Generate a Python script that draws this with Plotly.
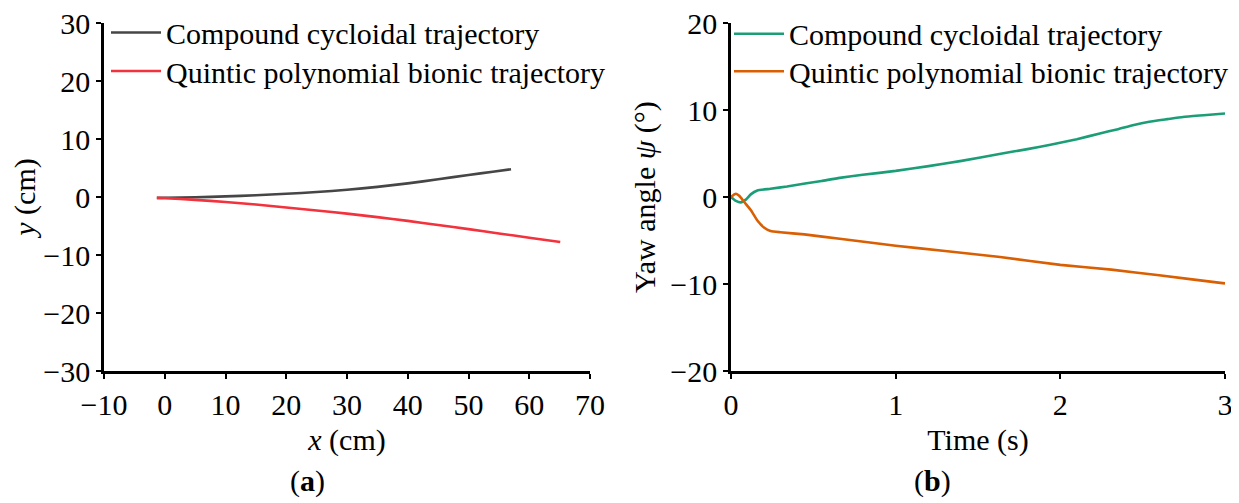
import plotly.graph_objects as go

# panel (a): planar trajectories
gray_x = [-1.3, 0, 5, 10, 15, 20, 25, 30, 35, 40, 45, 50, 54, 57]
gray_y = [-0.15, -0.13, -0.05, 0.1, 0.3, 0.55, 0.85, 1.25, 1.75, 2.35, 3.05, 3.8, 4.35, 4.78]
red_x = [-1.3, 0, 5, 10, 15, 20, 25, 30, 35, 40, 45, 50, 55, 60, 65.1]
red_y = [-0.15, -0.2, -0.5, -0.86, -1.3, -1.8, -2.32, -2.87, -3.47, -4.12, -4.82, -5.54, -6.28, -7.02, -7.76]

# panel (b): yaw angle vs time
green_t = [0, 0.03, 0.06, 0.09, 0.12, 0.16, 0.24, 0.34, 0.45, 0.55, 0.66, 0.8, 1.0, 1.2,
           1.4, 1.63, 1.8, 1.94, 2.1, 2.24, 2.35, 2.44, 2.54, 2.65, 2.745, 2.87, 3.0]
green_y = [0, -0.45, -0.62, -0.3, 0.3, 0.75, 0.95, 1.2, 1.55, 1.85, 2.2, 2.55, 3.0, 3.55,
           4.15, 4.95, 5.5, 6.0, 6.65, 7.3, 7.8, 8.25, 8.65, 8.95, 9.2, 9.4, 9.6]
orange_t = [0, 0.02, 0.03, 0.05, 0.08, 0.12, 0.16, 0.2, 0.24, 0.3, 0.445, 0.66, 1.0, 1.3,
            1.634, 2.0, 2.31, 2.6, 2.985, 3.0]
orange_y = [0, 0.3, 0.38, 0.15, -0.57, -1.5, -2.7, -3.5, -3.9, -4.05, -4.3, -4.8, -5.6, -6.2,
            -6.9, -7.8, -8.35, -9.0, -9.9, -9.93]

names = ["Compound cycloidal trajectory", "Quintic polynomial bionic trajectory"]

FONT = "Liberation Serif"
# the page body adds 8 px round the figure; the overflow on the right is clipped
W, H = 1239, 503
ml, mr, mt, mb = 96, 22, 15, 140
pw, ph = W - ml - mr, H - mt - mb


def px(p):
    # figure pixel column -> paper x
    return (p - ml) / pw


def py(p):
    # figure pixel row -> paper y
    return (H - mb - p) / ph


fig = go.Figure()
fig.add_trace(go.Scatter(x=gray_x, y=gray_y, mode="lines", name=names[0],
                         line=dict(color="#464646", width=2.6, shape="spline", smoothing=0.6),
                         xaxis="x", yaxis="y", legend="legend"))
fig.add_trace(go.Scatter(x=red_x, y=red_y, mode="lines", name=names[1],
                         line=dict(color="#f2323c", width=2.6, shape="spline", smoothing=0.6),
                         xaxis="x", yaxis="y", legend="legend2"))
fig.add_trace(go.Scatter(x=green_t, y=green_y, mode="lines", name=names[0],
                         line=dict(color="#1b9e77", width=2.6, shape="spline", smoothing=0.5),
                         xaxis="x2", yaxis="y2", legend="legend3"))
fig.add_trace(go.Scatter(x=orange_t, y=orange_y, mode="lines", name=names[1],
                         line=dict(color="#d95f02", width=2.6, shape="spline", smoothing=0.5),
                         xaxis="x2", yaxis="y2", legend="legend4"))

axis_common = dict(showline=True, linecolor="black", linewidth=2.5, ticks="outside",
                   ticklen=5, tickwidth=2, tickcolor="black", showgrid=False, zeroline=False,
                   automargin=False, ticklabeloverflow="allow",
                   tickfont=dict(family=FONT, size=30, color="black"))

legend_common = dict(font=dict(family=FONT, size=30, color="black"), bgcolor="rgba(0,0,0,0)",
                     xanchor="left", yanchor="top", itemwidth=50)

fig.update_layout(
    width=W, height=H,
    margin=dict(l=ml, r=mr, t=mt, b=mb, autoexpand=False),
    paper_bgcolor="white", plot_bgcolor="white",
    font=dict(family=FONT, color="black"),
    xaxis=dict(axis_common, domain=[0, 486 / pw], range=[-10, 70], dtick=10,
               anchor="y", title=dict(text="<i>x</i> (cm)", font=dict(size=30), standoff=10)),
    yaxis=dict(axis_common, range=[-30, 30], dtick=10, anchor="x",
               title=dict(text="<i>y</i> (cm)", font=dict(size=30), standoff=15)),
    xaxis2=dict(axis_common, domain=[627 / pw, 1], range=[0, 3], dtick=1,
                anchor="y2", title=dict(text="Time (s)", font=dict(size=30), standoff=10)),
    yaxis2=dict(axis_common, range=[-20, 20], dtick=10, anchor="x2",
                title=dict(text="Yaw angle <i>ψ</i> (°)", font=dict(size=30), standoff=6)),
    legend=dict(legend_common, x=px(98), y=py(-1.5)),
    legend2=dict(legend_common, x=px(98), y=py(37)),
    legend3=dict(legend_common, x=px(721), y=py(-0.3)),
    legend4=dict(legend_common, x=px(721), y=py(37.3)),
    showlegend=True,
)

for label, cx in [("(<b>a</b>)", 299), ("(<b>b</b>)", 924)]:
    fig.add_annotation(text=label, x=px(cx), y=py(473), xref="paper", yref="paper",
                       showarrow=False, font=dict(family=FONT, size=30, color="black"),
                       xanchor="center", yanchor="middle")

fig.write_html("out.html")
